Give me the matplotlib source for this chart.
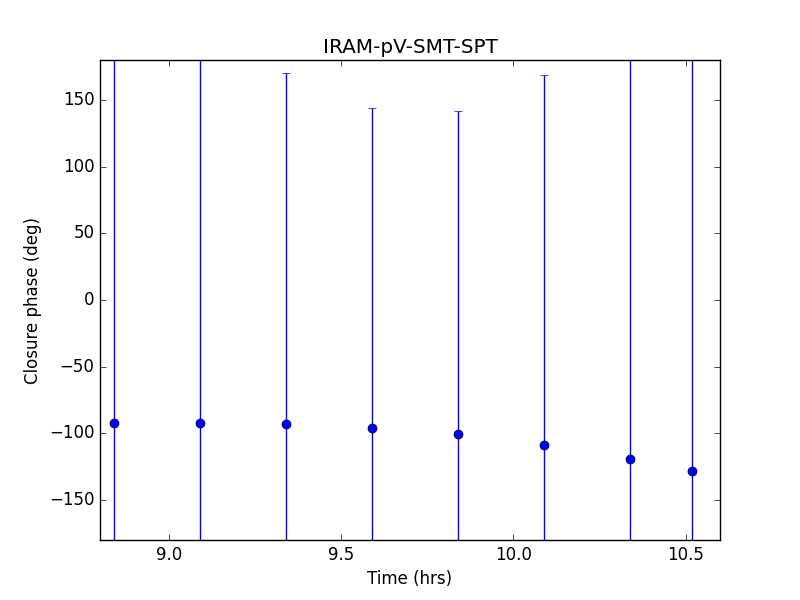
import matplotlib
matplotlib.use("Agg")
import matplotlib.pyplot as plt
from matplotlib.ticker import MultipleLocator

plt.style.use("classic")

# closure phase data
times = [8.84, 9.09, 9.34, 9.59, 9.84, 10.09, 10.34, 10.52]
cphase = [-92.5, -92.3, -93.0, -96.0, -100.5, -109.0, -119.0, -128.0]
sigma = [330.0, 320.0, 263.0, 240.0, 242.5, 278.0, 340.0, 350.0]

fig = plt.figure(figsize=(8, 6), dpi=100)
ax = fig.add_subplot(111)
ax.errorbar(times, cphase, yerr=sigma, fmt="bo", ecolor="b", capsize=3, markersize=6.5)
ax.set_xlim(8.8, 10.6)
ax.set_ylim(-180, 180)
ax.xaxis.set_major_locator(MultipleLocator(0.5))
ax.set_xlabel("Time (hrs)")
ax.set_ylabel("Closure phase (deg)")
ax.set_title("IRAM-pV-SMT-SPT")

fig.savefig("out.png", dpi=100)
